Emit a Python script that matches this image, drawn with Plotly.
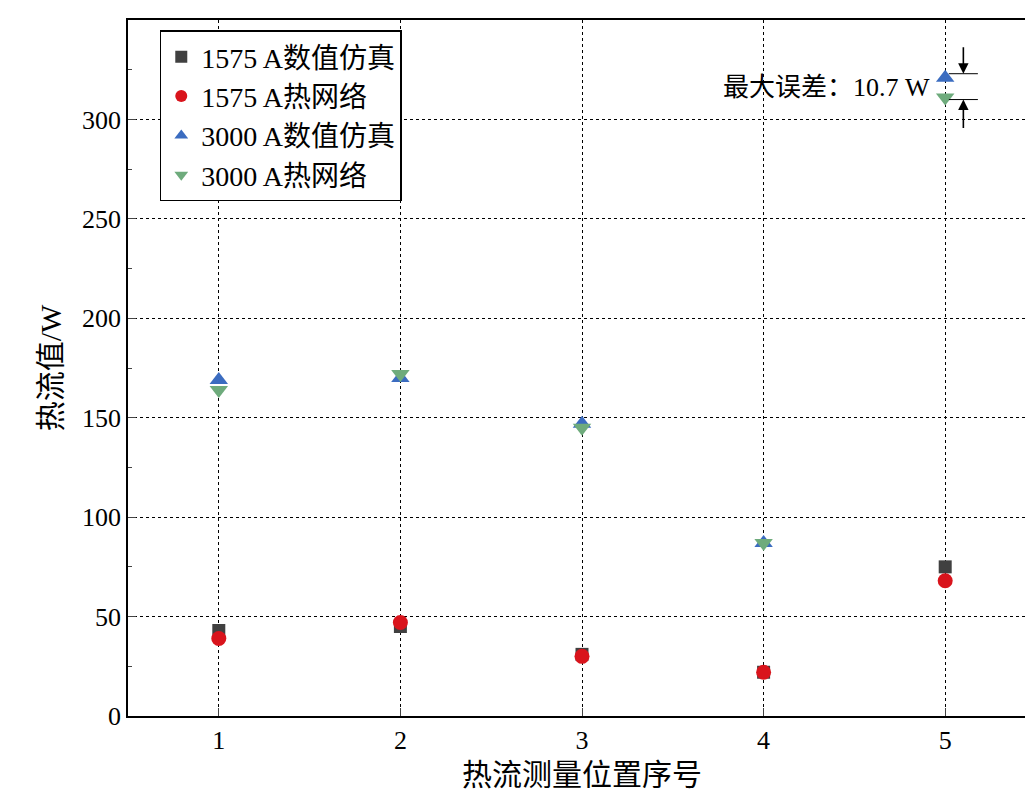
import plotly.graph_objects as go

# Data
positions = [1, 2, 3, 4, 5]
sim_1575 = [43, 45, 31, 22, 75]
net_1575 = [39, 47, 30, 22, 68]
sim_3000 = [169, 170, 147, 87, 321]
net_3000 = [164, 172, 145, 87, 311]

font_family = "Liberation Serif, Noto Sans CJK SC"

fig = go.Figure()

series = [
    ("1575 A数值仿真", sim_1575, "square", "#404040", 13),
    ("1575 A热网络", net_1575, "circle", "#d9141c", 15),
    ("3000 A数值仿真", sim_3000, "triangle-up", "#3b6cc0", 16),
    ("3000 A热网络", net_3000, "triangle-down", "#6eab7c", 16),
]
for name, vals, symbol, color, size in series:
    fig.add_trace(go.Scatter(
        x=positions, y=vals, mode="markers", name=name,
        marker=dict(symbol=symbol, color=color, size=size, line=dict(width=0)),
    ))

# Max error marker
fig.add_annotation(x=5.1, y=323, ax=5.1, ay=337, xref="x", yref="y", axref="x", ayref="y",
                   showarrow=True, arrowhead=2, arrowsize=1.3, arrowwidth=1.6,
                   arrowcolor="black", text="")
fig.add_annotation(x=5.1, y=310, ax=5.1, ay=295, xref="x", yref="y", axref="x", ayref="y",
                   showarrow=True, arrowhead=2, arrowsize=1.3, arrowwidth=1.6,
                   arrowcolor="black", text="")
for yv in [323, 310]:
    fig.add_shape(type="line", x0=5.02, x1=5.18, y0=yv, y1=yv, xref="x", yref="y",
                  line=dict(color="black", width=1))
fig.add_annotation(x=4.93, y=316, xref="x", yref="y", text="最大误差：10.7 W",
                   showarrow=False, xanchor="right", font=dict(size=26))

fig.update_layout(
    width=1033, height=800,
    margin=dict(l=120, r=3, t=12, b=92),
    plot_bgcolor="white", paper_bgcolor="white",
    font=dict(family=font_family, size=26, color="black"),
    showlegend=True,
    legend=dict(x=0.035, y=0.985, xanchor="left", yanchor="top",
                bordercolor="black", borderwidth=1.5, bgcolor="white",
                font=dict(size=28), itemsizing="constant", tracegroupgap=0),
    xaxis=dict(
        range=[0.5, 5.5], tickvals=positions, ticks="inside", ticklen=8,
        showline=True, mirror=True, linecolor="black", linewidth=1.5,
        showgrid=True, gridcolor="black", griddash="dot", gridwidth=1,
        zeroline=False,
        title=dict(text="热流测量位置序号", font=dict(size=30), standoff=10),
    ),
    yaxis=dict(
        range=[0, 350.01], tickvals=[0, 50, 100, 150, 200, 250, 300, 350],
        ticks="inside", ticklen=8,
        minor=dict(dtick=25, ticks="inside", ticklen=4, showgrid=False),
        showline=True, mirror=True, linecolor="black", linewidth=1.5,
        showgrid=True, gridcolor="black", griddash="dot", gridwidth=1,
        zeroline=False,
        title=dict(text="热流值/W", font=dict(size=30), standoff=12),
    ),
)

fig.write_html("out.html")
